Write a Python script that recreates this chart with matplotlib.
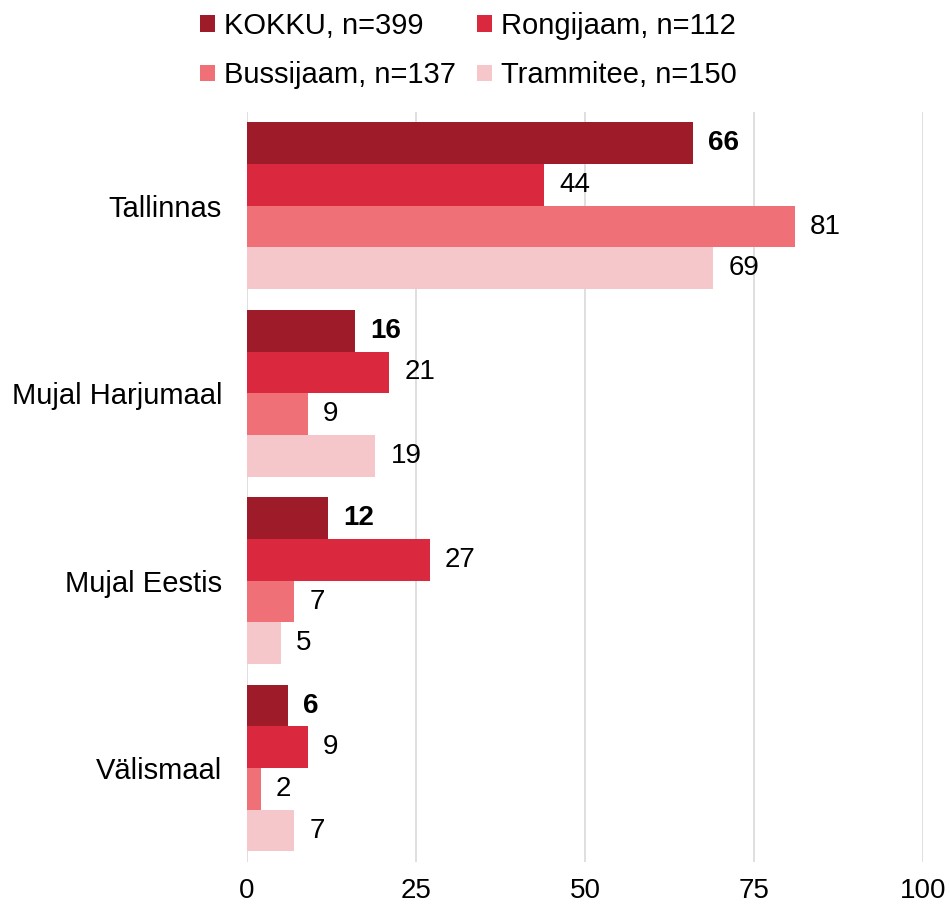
import numpy as np
import matplotlib
matplotlib.use('Agg')
import matplotlib.pyplot as plt

plt.rcParams['font.family'] = ['Liberation Sans', 'DejaVu Sans']

categories = ['Tallinnas', 'Mujal Harjumaal', 'Mujal Eestis', 'Välismaal']
series_names = ['KOKKU, n=399', 'Rongijaam, n=112', 'Bussijaam, n=137', 'Trammitee, n=150']
kokku = [66, 16, 12, 6]
rongijaam = [44, 21, 27, 9]
bussijaam = [81, 9, 7, 2]
trammitee = [69, 19, 5, 7]
x_ticks = [0, 25, 50, 75, 100]

colors = ['#9E1C29', '#DA283E', '#F07078', '#F5C6CA']
series = [kokku, rongijaam, bussijaam, trammitee]

fig = plt.figure(figsize=(9.5, 9.11), dpi=100)
ax = fig.add_axes([0.26, 0.054, 0.7116, 0.823])

y = np.arange(len(categories))
h = 0.2225
handles = []
for i, (vals, name, col) in enumerate(zip(series, series_names, colors)):
    pos = y + (i - 1.5) * h
    b = ax.barh(pos, vals, height=h, color=col, label=name, zorder=2)
    handles.append(b)
    for p, v in zip(pos, vals):
        ax.annotate(str(v), (v, p), xytext=(11, 0), textcoords='offset points',
                    va='center', ha='left', fontsize=20,
                    fontweight='bold' if i == 0 else 'normal')

ax.set_ylim(len(categories) - 0.5, -0.5)
ax.set_xlim(0, 100)
ax.set_xticks(x_ticks)
ax.set_yticks(y)
ax.set_yticklabels(categories, fontsize=21)
ax.tick_params(axis='both', length=0)
ax.tick_params(axis='x', labelsize=20, pad=12)
ax.tick_params(axis='y', pad=18)
ax.grid(axis='x', color='#D9D9D9', linewidth=1.2, zorder=0)
ax.set_axisbelow(True)
for s in ax.spines.values():
    s.set_visible(False)

# legend fills column-wise, so reorder to read row-wise
order = [0, 2, 1, 3]
fig.legend([handles[k] for k in order], [series_names[k] for k in order],
           loc='upper center', bbox_to_anchor=(0.493, 1.016), ncol=2, frameon=False,
           fontsize=21, handlelength=0.5, handleheight=0.5, handletextpad=0.3,
           columnspacing=0.75, labelspacing=0.74)

plt.savefig('out.png', dpi=100)
plt.close()
